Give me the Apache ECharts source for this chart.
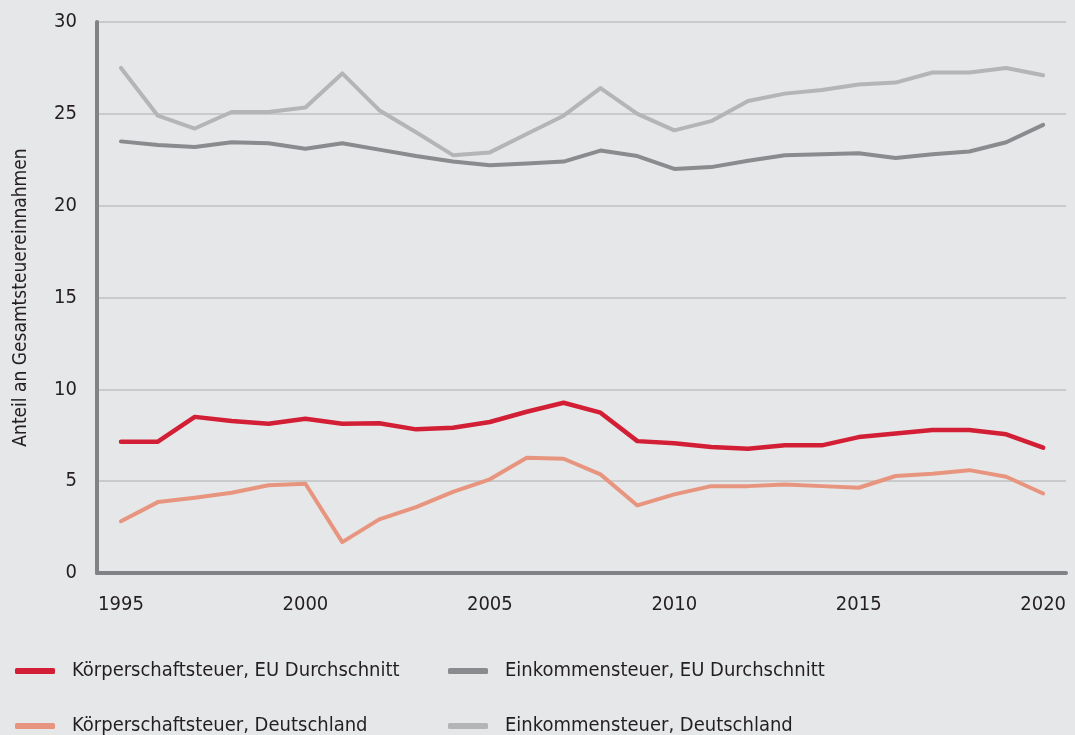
<!DOCTYPE html>
<html>
<head>
<meta charset="utf-8">
<script src="https://cdn.jsdelivr.net/npm/echarts@6/dist/echarts.min.js"></script>
<style>
  html, body { margin: 0; padding: 0; background: #e6e7e9; }
  #main { width: 1075px; height: 735px; }
</style>
</head>
<body>
<div id="main"></div>
<script>
var years = [1995, 1996, 1997, 1998, 1999, 2000, 2001, 2002, 2003, 2004, 2005, 2006, 2007,
             2008, 2009, 2010, 2011, 2012, 2013, 2014, 2015, 2016, 2017, 2018, 2019, 2020];
var yearLabels = [1995, 2000, 2005, 2010, 2015, 2020];

var koerpEU = [7.15, 7.15, 8.5, 8.27, 8.13, 8.4, 8.13, 8.15, 7.82, 7.91, 8.22, 8.78, 9.27,
               8.73, 7.18, 7.06, 6.86, 6.77, 6.95, 6.95, 7.4, 7.6, 7.78, 7.78, 7.55, 6.82];
var koerpDE = [2.82, 3.86, 4.1, 4.37, 4.78, 4.86, 1.68, 2.92, 3.59, 4.42, 5.1, 6.28, 6.22,
               5.37, 3.68, 4.28, 4.73, 4.73, 4.82, 4.73, 4.64, 5.28, 5.41, 5.6, 5.24, 4.33];
var einkEU = [23.5, 23.3, 23.2, 23.45, 23.4, 23.1, 23.4, 23.05, 22.7, 22.4, 22.2, 22.3, 22.4,
              23.0, 22.7, 22.0, 22.1, 22.45, 22.75, 22.8, 22.85, 22.6, 22.8, 22.95, 23.45, 24.4];
var einkDE = [27.5, 24.9, 24.2, 25.1, 25.1, 25.35, 27.2, 25.2, 24.0, 22.75, 22.9, 23.9, 24.9,
              26.4, 25.0, 24.1, 24.6, 25.7, 26.1, 26.3, 26.6, 26.7, 27.25, 27.25, 27.5, 27.1];

var names = ['Körperschaftsteuer, EU Durchschnitt', 'Einkommensteuer, EU Durchschnitt',
             'Körperschaftsteuer, Deutschland', 'Einkommensteuer, Deutschland'];
var colors = ['#d31f35', '#8a8b8e', '#e8957f', '#b4b5b7'];
var values = [koerpEU, einkEU, koerpDE, einkDE];

var font = "'DejaVu Sans Condensed', 'Noto Sans', sans-serif";

function pairs(arr) {
    return years.map(function (y, i) { return [y, arr[i]]; });
}

// zeichnen: Deutschland unten, EU oben
var order = [3, 1, 2, 0];
var series = order.map(function (k) {
    return {
        name: names[k],
        type: 'line',
        symbol: 'none',
        z: 3,
        lineStyle: { color: colors[k], width: k === 0 ? 4.5 : 4, cap: 'round', join: 'round' },
        itemStyle: { color: colors[k] },
        data: pairs(values[k])
    };
});

var legendPos = [[10, 656], [443, 656], [10, 711], [443, 711]];
var legends = names.map(function (n, k) {
    return {
        data: [n],
        left: legendPos[k][0],
        top: legendPos[k][1],
        icon: 'roundRect',
        itemWidth: 40,
        itemHeight: 6,
        selectedMode: false,
        textStyle: { fontFamily: font, fontSize: 20, color: '#231f20', padding: [0, 0, 0, 12] }
    };
});

var myChart = echarts.init(document.getElementById('main'));
var option = {
    backgroundColor: '#e6e7e9',
    animation: false,
    legend: legends,
    grid: {
        top: 22,
        left: 97,
        right: 9,
        bottom: 162
    },
    xAxis: {
        type: 'value',
        min: 1994.35,
        max: 2020.62,
        splitLine: { show: false },
        axisTick: { show: false },
        axisLine: { show: true, lineStyle: { color: '#808285', width: 4 } },
        axisLabel: {
            customValues: yearLabels,
            formatter: function (v) { return String(v); },
            margin: 22,
            fontFamily: font,
            fontSize: 20,
            color: '#231f20'
        }
    },
    yAxis: {
        type: 'value',
        min: 0,
        max: 30,
        interval: 5,
        name: 'Anteil an Gesamtsteuereinnahmen',
        nameLocation: 'middle',
        nameRotate: 90,
        nameGap: 66,
        nameTextStyle: { fontFamily: font, fontSize: 19, color: '#231f20' },
        axisTick: { show: false },
        axisLine: { show: true, lineStyle: { color: '#808285', width: 4 } },
        splitLine: { lineStyle: { color: '#c9cacc', width: 2 } },
        axisLabel: { margin: 20, fontFamily: font, fontSize: 20, color: '#231f20' }
    },
    series: series
};
myChart.setOption(option);
</script>
</body>
</html>
